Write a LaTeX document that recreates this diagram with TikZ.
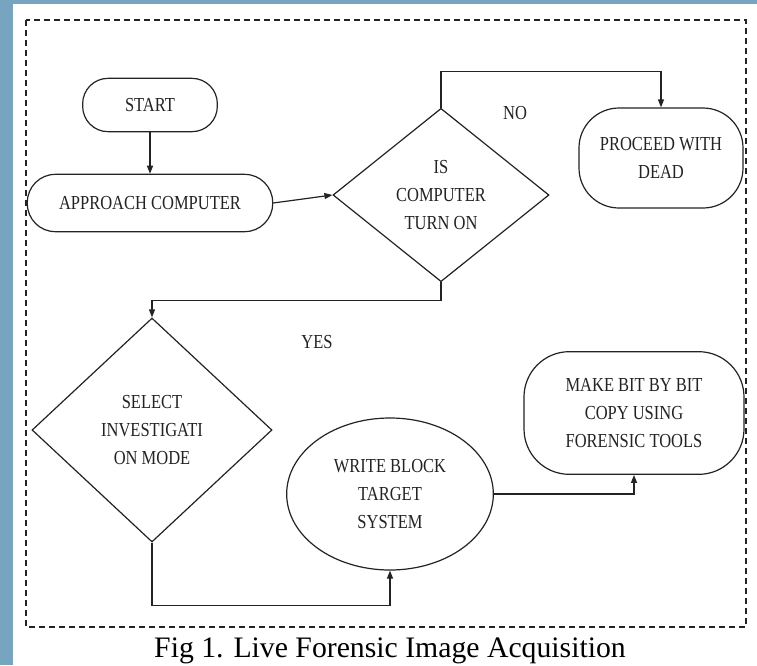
\documentclass[tikz,border=0pt]{standalone}
\usepackage{fontspec}
\setmainfont{Liberation Serif}
\newfontfamily\boxfont[FakeStretch=0.83]{Liberation Serif}
\usetikzlibrary{shapes.geometric,arrows.meta}

\definecolor{bandblue}{RGB}{119,165,191}
\definecolor{ink}{RGB}{35,35,35}

\tikzset{
  flowtext/.style={font=\boxfont\fontsize{14.9}{21}\selectfont,align=center,text=ink},
  roundbox/.style={flowtext,draw=ink,line width=0.9pt,inner sep=0pt},
  decision/.style={flowtext,diamond,draw=ink,line width=0.9pt,inner sep=0pt},
  oval/.style={flowtext,ellipse,draw=ink,line width=0.9pt,inner sep=0pt},
  conn/.style={draw=ink,line width=0.9pt,-{Triangle[length=6pt,width=4.5pt]}}
}

\begin{document}
\begin{tikzpicture}[x=0.75pt,y=0.75pt,yscale=-1,xscale=1]
\useasboundingbox (0,0) rectangle (757,665);

%background band and frame
\fill[bandblue] (0,0) rectangle (757,665);
\fill[white] (13,4) rectangle (757,665);
\draw[ink,line width=0.9pt,dash pattern=on 4.5pt off 3pt] (26,20) rectangle (746,627);

%Flow nodes
\node[roundbox,rounded corners=19pt,minimum width=101pt,minimum height=40pt] (start) at (150,105) {START};
\node[roundbox,rounded corners=21pt,minimum width=184pt,minimum height=43pt] (app) at (150,203) {APPROACH COMPUTER};
\node[decision,minimum width=162pt,minimum height=130pt] (comp) at (441,195) {IS\\COMPUTER\\TURN ON};
\node[roundbox,rounded corners=30pt,minimum width=123pt,minimum height=75pt] (dead) at (661,158) {PROCEED WITH\\DEAD};
\node[decision,minimum width=180pt,minimum height=168pt] (sel) at (152,430) {SELECT\\INVESTIGATI\\ON MODE};
\node[oval,minimum width=155pt,minimum height=114pt] (wb) at (390,494) {WRITE BLOCK\\TARGET\\SYSTEM};
\node[roundbox,rounded corners=34pt,minimum width=165pt,minimum height=92pt] (make) at (634,413) {MAKE BIT BY BIT\\COPY USING\\FORENSIC TOOLS};

%Labels
\node[flowtext] (no) at (515,113) {NO};
\node[flowtext] (yes) at (317,342) {YES};

%Connectors
\draw[conn] (start) -- (app);
\draw[conn] (app.east) -- (comp.west);
\draw[conn] (comp.north) -- ++(0,-36) -| (dead.north);
\draw[conn] (comp.south) -- ++(0,18) -| (sel.north);
\draw[conn] (sel.south) -- ++(0,63) -| (wb.south);
\draw[conn] (wb.east) -| (make.south);

%Caption
\node[font=\fontsize{22.3}{26}\selectfont,anchor=base,inner sep=0pt] (cap) at (390,657) {Fig 1. Live Forensic Image Acquisition};

\end{tikzpicture}
\end{document}
